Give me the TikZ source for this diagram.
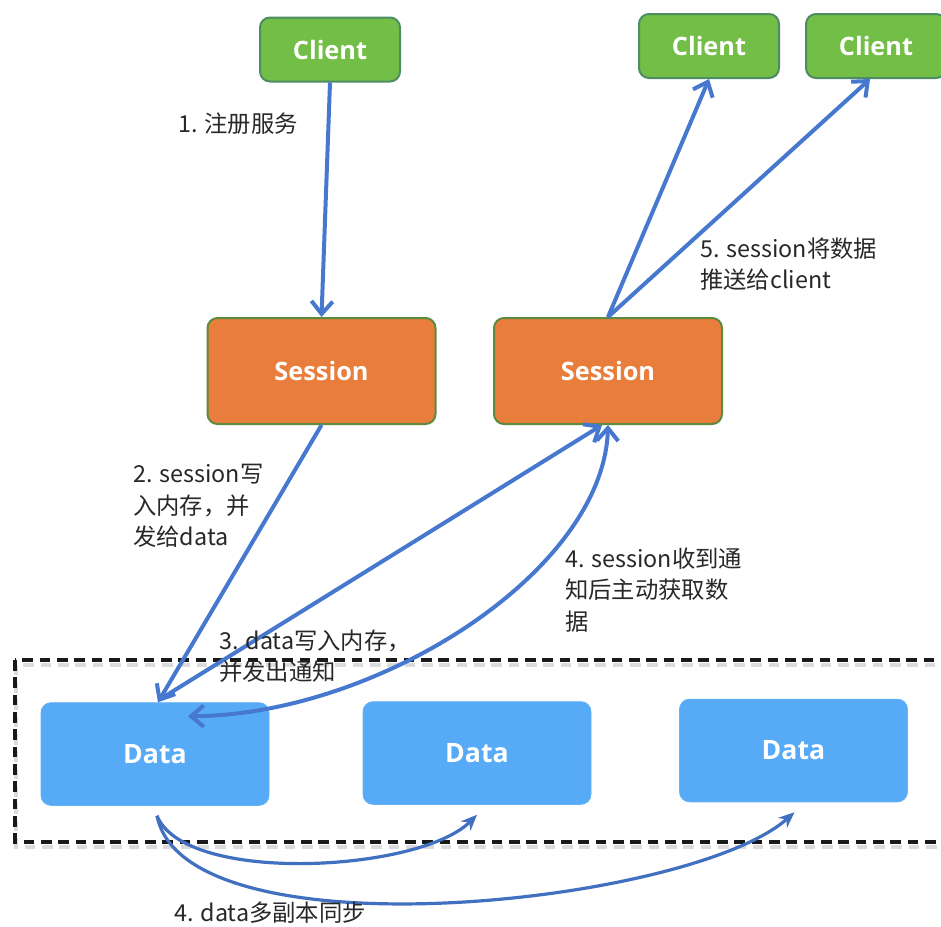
\documentclass[tikz,border=0pt]{standalone}
\usepackage{fontspec}
\newfontfamily\cjk{Noto Sans CJK SC}
\newfontfamily\boxfont{Open Sans}
\usetikzlibrary{arrows.meta,calc}

\definecolor{clientfill}{RGB}{114,190,70}
\definecolor{clientline}{RGB}{78,140,100}
\definecolor{sessfill}{RGB}{233,125,59}
\definecolor{sessline}{RGB}{92,138,62}
\definecolor{datafill}{RGB}{86,170,246}
\definecolor{dataline}{RGB}{100,178,248}
\definecolor{flowblue}{RGB}{70,120,208}
\definecolor{syncblue}{RGB}{66,112,192}
\definecolor{labelgray}{RGB}{40,40,40}

\tikzset{
  box/.style={rectangle, rounded corners=7.5pt, inner sep=0pt, text=white,
    font=\boxfont\bfseries\fontsize{19}{22}\selectfont},
  client/.style={box, fill=clientfill, draw=clientline, line width=1.5pt,
    minimum width=105pt, minimum height=48pt},
  session/.style={box, fill=sessfill, draw=sessline, line width=1.5pt,
    minimum width=171pt, minimum height=79.5pt},
  databox/.style={box, fill=datafill, draw=dataline, line width=0.6pt,
    minimum width=171pt, minimum height=77pt,
    font=\boxfont\bfseries\fontsize{20}{22}\selectfont},
  barb/.tip={Straight Barb[length=9.5pt,width=16pt]},
  flow/.style={draw=flowblue, line width=3pt, -barb},
  sync/.style={draw=syncblue, line width=2.4pt, -{Stealth[length=12pt,width=10pt]}},
  lbl/.style={font=\cjk\fontsize{17.5}{23.5}\selectfont, text=labelgray,
    align=left, inner sep=0pt, anchor=west},
  fence/.style={line width=2.4pt, dash pattern=on 8pt off 5pt},
}

\begin{document}
\begin{tikzpicture}[x=0.75pt,y=-0.75pt]
  \useasboundingbox (0,0) rectangle (941,926);
  \fill[white] (0,0) rectangle (941,926);
  \clip (0,0) rectangle (941,926);

  % dashed group around the data replicas, with its soft shadow
  \draw[fence, gray!28, line width=3pt, xshift=0.75pt, yshift=-3.5pt]
    (15,660) rectangle (960,842);
  \draw[fence, black!90] (15,660) rectangle (960,842);

  % clients
  \node[client] (c1) at (330,49.5) {Client};
  \node[client] (c2) at (709,46) {Client};
  \node[client] (c3) at (876,46) {Client};

  % sessions
  \node[session] (s1) at (321.5,371) {Session};
  \node[session] (s2) at (608,371) {Session};

  % data replicas
  \node[databox] (d1) at (155,754) {Data};
  \node[databox] (d2) at (477,753) {Data};
  \node[databox] (d3) at (793.5,750.5) {Data};

  % helper points on the data boxes
  \coordinate (d1top) at ($(d1.north)+(3,0)$);
  \coordinate (d1src) at ($(d1.north)+(5,-3)$);
  \coordinate (d1in)  at ($(d1.north)+(33,14)$);
  \coordinate (d1b)   at ($(d1.south)+(2,10)$);
  \coordinate (d2b)   at ($(d2.south)+(0,10)$);
  \coordinate (d3b)   at ($(d3.south)+(1,10)$);

  % 1. register
  \draw[flow] (c1.south) -- (s1.north);
  % 2. session writes and forwards to data
  \draw[flow] (s1.south) -- (d1top);
  % 3. data notifies the other session
  \draw[flow] (d1src) -- ($(s2.south)+(-6,0)$);
  % 4. session fetches the data
  \draw[flow, barb-barb] (d1in) .. controls (380,715) and (604,570) .. (s2.south);
  % 5. push to clients
  \draw[flow] (s2.north) -- (c2.south);
  \draw[flow] (s2.north) -- ($(c3.south)+(-6,0)$);

  % replica synchronisation
  \draw[sync] (d1b) .. controls (185,885) and (420,872) .. (d2b);
  \draw[sync] (d1b) .. controls (185,958) and (690,905) .. (d3b);

  % labels
  \node[lbl] (t1) at (178,124) {1. 注册服务};
  \node[lbl] (t2) at (133,506) {2. session写\\入内存，并\\发给data};
  \node[lbl] (t3) at (219,656) {3. data写入内存，\\并发出通知};
  \node[lbl] (t4) at (565,590) {4. session收到通\\知后主动获取数\\据};
  \node[lbl] (t5) at (700,264) {5. session将数据\\推送给client};
  \node[lbl] (t6) at (174,913) {4. data多副本同步};
\end{tikzpicture}
\end{document}
